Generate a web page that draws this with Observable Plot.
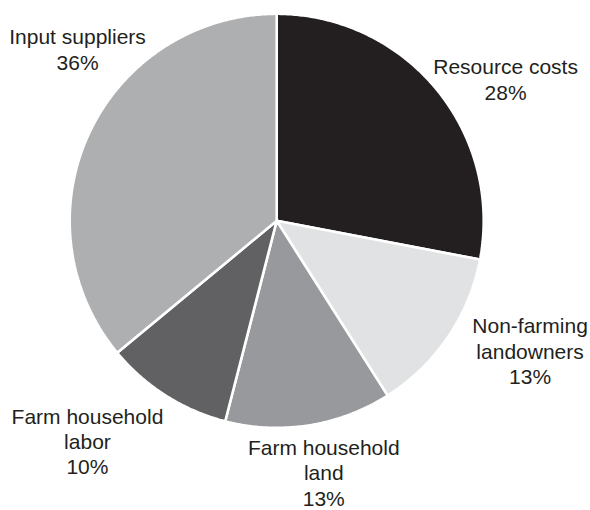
<!DOCTYPE html>
<html>
<head>
<meta charset="utf-8">
<script src="https://cdn.jsdelivr.net/npm/d3@7"></script>
<script src="https://cdn.jsdelivr.net/npm/@observablehq/plot@0.6"></script>
<style>
  html, body { margin: 0; padding: 0; background: #fff; }
  #chart svg { display: block; }
</style>
</head>
<body>
<div id="chart"></div>
<script>
// ---- Data ----
const categories = ["Resource costs", "Non-farming landowners", "Farm household land", "Farm household labor", "Input suppliers"];
const shares = [28, 13, 13, 10, 36];
const labelLines = [
  "Resource costs\n28%",
  "Non-farming\nlandowners\n13%",
  "Farm household\nland\n13%",
  "Farm household\nlabor\n10%",
  "Input suppliers\n36%"
];

// ---- Style / layout ----
const colors = ["#231f20", "#e1e2e3", "#98999c", "#616163", "#aeafb1"];
const W = 590, H = 510;
const cx = 276.2, cy = 220.3, R = 207;
// label placement: angular shift (deg) from slice mid-angle and radius factor
const labelShift = [7.8, -7.1, -1.6, 8.3, 15.6];
const labelRadius = [1.301, 1.375, 1.236, 1.402, 1.271];

// ---- Build slices (angles clockwise from 12 o'clock) ----
const total = d3.sum(shares);
let acc = 0;
const slices = categories.map((c, i) => {
  const a0 = acc / total * 2 * Math.PI;
  acc += shares[i];
  const a1 = acc / total * 2 * Math.PI;
  return {category: c, a0, a1, mid: (a0 + a1) / 2, i};
});

const polyPts = [];
for (const s of slices) {
  polyPts.push({category: s.category, x: 0, y: 0});
  const n = Math.max(2, Math.ceil((s.a1 - s.a0) / (Math.PI / 360)));
  for (let k = 0; k <= n; k++) {
    const a = s.a0 + (s.a1 - s.a0) * k / n;
    polyPts.push({category: s.category, x: Math.sin(a), y: Math.cos(a)});
  }
}

const labels = slices.map(s => {
  const a = s.mid + labelShift[s.i] * Math.PI / 180;
  const r = labelRadius[s.i];
  return {text: labelLines[s.i], x: r * Math.sin(a), y: r * Math.cos(a)};
});

const chart = Plot.plot({
  width: W,
  height: H,
  margin: 0,
  x: {domain: [-1, 1], range: [cx - R, cx + R], axis: null},
  y: {domain: [-1, 1], range: [cy + R, cy - R], axis: null},
  color: {domain: categories, range: colors},
  style: {background: "#fff", fontFamily: "'Liberation Sans', Arial, sans-serif"},
  marks: [
    Plot.line(polyPts, {
      x: "x", y: "y", z: "category", fill: "category",
      stroke: "#fff", strokeWidth: 2.6, strokeLinejoin: "miter",
      curve: "linear-closed"
    }),
    Plot.text(labels, {
      x: "x", y: "y", text: "text",
      fontSize: 21, lineHeight: 1.2, lineAnchor: "middle",
      textAnchor: "middle", fill: "#231f20"
    })
  ]
});
document.getElementById("chart").appendChild(chart);
</script>
</body>
</html>
